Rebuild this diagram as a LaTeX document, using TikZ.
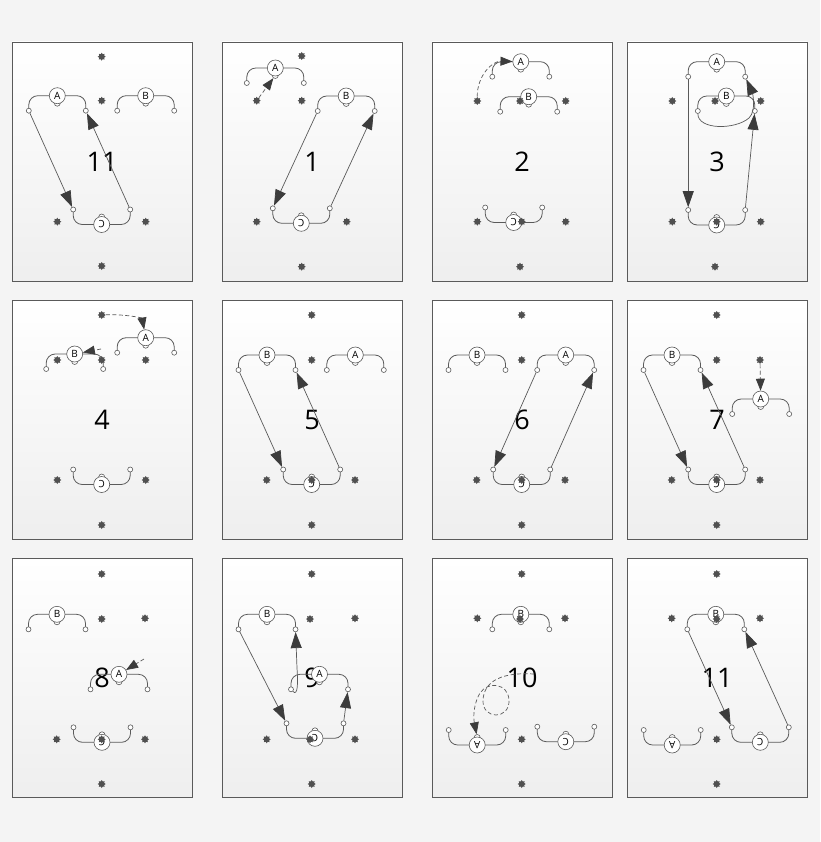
\documentclass[tikz,border=0pt]{standalone}
\usepackage{fontspec}
\setmainfont{Open Sans}
\usetikzlibrary{arrows.meta,shapes.geometric}
\definecolor{bg}{HTML}{F4F4F4}
\definecolor{ink}{HTML}{3C3C3C}
\definecolor{line}{HTML}{5A5A5A}

\begin{document}
\begin{tikzpicture}[x=1pt,y=-1pt,
   panel/.style={draw=line,line width=0.8pt,top color=white,bottom color=gray!13,minimum width=180pt,minimum height=239pt,inner sep=0pt,font=\fontsize{27}{30}\selectfont},
   arm/.style={draw=line,line width=0.8pt,rounded corners=9pt},
   hand/.style={circle,draw=line,fill=white,line width=0.6pt,minimum size=5pt,inner sep=0pt},
   nose/.style={circle,draw=line,fill=white,line width=0.6pt,minimum size=6pt,inner sep=0pt},
   body/.style={circle,draw=line,fill=white,line width=0.6pt,minimum size=16pt,inner sep=0pt,font=\fontsize{10}{10}\selectfont},
   spot/.style={star,star points=8,star point ratio=1.5,fill=ink!90,minimum size=8pt,inner sep=0pt},
   pass/.style={draw=line,line width=0.7pt,-{Triangle[length=16pt,width=11pt,color=ink]}},
   slide/.style={draw=line,line width=0.7pt,dash pattern=on 4pt off 2.5pt,-{Triangle[length=12pt,width=9pt,color=ink]}},
   flip/.style={rotate=180,transform shape},
   player/.pic={
      \draw[arm] (-28.5,15) |- (0,0) -| (28.5,15);
      \node[nose] (-n) at (0,7.5) {};
      \node[hand] (-l) at (-28.5,15) {};
      \node[hand] (-r) at (28.5,15) {};
      \node[body] (-b) at (0,0) {#1};
   }]
   \fill[bg] (0,0) rectangle (820,842);
   \useasboundingbox (0,0) rectangle (820,842);
   \foreach \x/\y/\t [count=\i] in {102/161.5/11,312/161.5/1,522/161.5/2,717/161.5/3,102/420/4,312/420/5,522/420/6,717/420/7,102/678/8,312/678/9,522/678/10,717/678/11}
      \node[panel] (f_\i) at (\x,\y) {\t};

   \pic (a_1) at (57.3,95.7) {player=A};
   \pic (b_1) at (145.7,95.7) {player=B};
   \pic[flip] (c_1) at (101.7,224.5) {player=C};
   \pic (a_2) at (275.3,68) {player=A};
   \pic (b_2) at (346.2,96) {player=B};
   \pic[flip] (c_2) at (301.3,223.3) {player=C};
   \pic (a_3) at (520.8,61.7) {player=A};
   \pic (b_3) at (528.7,96.7) {player=B};
   \pic[flip] (c_3) at (513.7,222.5) {player=C};
   \pic (a_4) at (716.7,61.7) {player=A};
   \pic (b_4) at (726.3,96) {player=B};
   \pic[flip] (c_4) at (716.7,225) {player=C};
   \pic (a_5) at (145.7,337.7) {player=A};
   \pic (b_5) at (74.7,354) {player=B};
   \pic[flip] (c_5) at (101.7,484.5) {player=C};
   \pic (b_6) at (267,355) {player=B};
   \pic (a_6) at (355.3,355) {player=A};
   \pic[flip] (c_6) at (311.7,484.5) {player=C};
   \pic (b_7) at (477,355) {player=B};
   \pic (a_7) at (565.7,355) {player=A};
   \pic[flip] (c_7) at (521.7,484.5) {player=C};
   \pic (b_8) at (672,355) {player=B};
   \pic (a_8) at (760.7,399) {player=A};
   \pic[flip] (c_8) at (716.7,484.5) {player=C};
   \pic (b_9) at (57,614.3) {player=B};
   \pic (a_9) at (119,674.3) {player=A};
   \pic[flip] (c_9) at (102,742.3) {player=C};
   \pic (b_10) at (267,614.3) {player=B};
   \pic (a_10) at (319.5,674.3) {player=A};
   \pic[flip] (c_10) at (315,738.3) {player=C};
   \pic (b_11) at (520.8,614.3) {player=B};
   \pic[flip] (a_11) at (477.2,745) {player=A};
   \pic[flip] (c_11) at (565.8,741.7) {player=C};
   \pic (b_12) at (715.8,614.3) {player=B};
   \pic[flip] (a_12) at (672.2,745) {player=A};
   \pic[flip] (c_12) at (760.3,742.3) {player=C};

   \foreach \x/\y [count=\i] in {101.7/56.7,101.7/100.7,57.3/221.7,145.7/221.7,101.7/266}
      \node[spot] (s1_\i) at (\x,\y) {};
   \foreach \x/\y [count=\i] in {301.7/56,256.7/100.7,301.7/100.7,256.7/221.7,346.7/221.7,301.7/266.7}
      \node[spot] (s2_\i) at (\x,\y) {};
   \foreach \x/\y [count=\i] in {477.3/101,520/101,565.7/101,477.3/221.7,521.7/221.7,565.7/221.7,520/266.7}
      \node[spot] (s3_\i) at (\x,\y) {};
   \foreach \x/\y [count=\i] in {672.3/101,715/101,760.7/101,672.3/221.7,716.7/221.7,760.7/221.7,715/266.7}
      \node[spot] (s4_\i) at (\x,\y) {};
   \foreach \x/\y [count=\i] in {101.7/315,57.3/360,101.7/360,145.7/360,57.3/480,145.7/480,101.7/525}
      \node[spot] (s5_\i) at (\x,\y) {};
   \foreach \x/\y [count=\i] in {311.7/315,311.7/360,266.7/480,311.7/480,355/480,311.7/525}
      \node[spot] (s6_\i) at (\x,\y) {};
   \foreach \x/\y [count=\i] in {521.7/315,521.7/360,476.7/480,521.7/480,565/480,521.7/525}
      \node[spot] (s7_\i) at (\x,\y) {};
   \foreach \x/\y [count=\i] in {716.7/315,716.7/360,760/360,671.7/480,716.7/480,760/480,716.7/525}
      \node[spot] (s8_\i) at (\x,\y) {};
   \foreach \x/\y [count=\i] in {101.7/574,101.7/619,145/618.3,56.7/739.3,101.7/739.3,145/739.3,101.7/784}
      \node[spot] (s9_\i) at (\x,\y) {};
   \foreach \x/\y [count=\i] in {311.7/574,310/619,355/618.3,266.7/739.3,310/739.3,355/739.3,311.7/784}
      \node[spot] (s10_\i) at (\x,\y) {};
   \foreach \x/\y [count=\i] in {521.7/574,477.3/618.3,520/619,565/618.3,521.7/739.3,521.7/784}
      \node[spot] (s11_\i) at (\x,\y) {};
   \foreach \x/\y [count=\i] in {716.7/574,671.7/618.3,716.7/619,760/618.3,716.7/739.3,716.7/784}
      \node[spot] (s12_\i) at (\x,\y) {};

   \coordinate (t_5) at (101,349);
   \coordinate (t_9) at (144,659);
   \coordinate (t_11) at (534,674);

   \path[pass]
   (a_1-l) edge (c_1-r)
   (c_1-l) edge (a_1-r)
   (b_2-l) edge (c_2-r)
   (c_2-l) edge (b_2-r)
   (a_4-l) edge (c_4-r)
   (c_4-l) edge (b_4-r)
   (b_6-l) edge (c_6-r)
   (c_6-l) edge (b_6-r)
   (a_7-l) edge (c_7-r)
   (c_7-l) edge (a_7-r)
   (b_8-l) edge (c_8-r)
   (c_8-l) edge (b_8-r)
   (b_10-l) edge (c_10-r)
   (c_10-l) edge (a_10-r)
   (b_12-l) edge (c_12-r)
   (c_12-l) edge (b_12-r);
   \draw[pass] (b_4-l) .. controls (698,130) and (735,130) .. (749,118) .. controls (757,110) and (752,92) .. (a_4-r);
   \draw[pass] (a_10-l) .. controls (298,697) and (298,682) .. (297,668) -- (b_10-r);

   \draw[slide] (s2_2) -- (a_2-n);
   \draw[slide] (s3_1) .. controls (477,76) and (492,61) .. (a_3-b);
   \draw[slide] (s5_1) .. controls (125,314) and (142,318) .. (a_5-b);
   \draw[slide] (t_5) -- (b_5-b);
   \draw[slide] (s8_3) -- (a_8-b);
   \draw[slide] (t_9) -- (a_9-b);
   \draw[slide] (t_11) .. controls (504,672) and (484,680) .. (483,700) .. controls (482,720) and (510,720) .. (509,700) .. controls (508,683) and (488,681) .. (480,693) .. controls (474,703) and (473,716) .. (a_11-n);
\end{tikzpicture}
\end{document}
